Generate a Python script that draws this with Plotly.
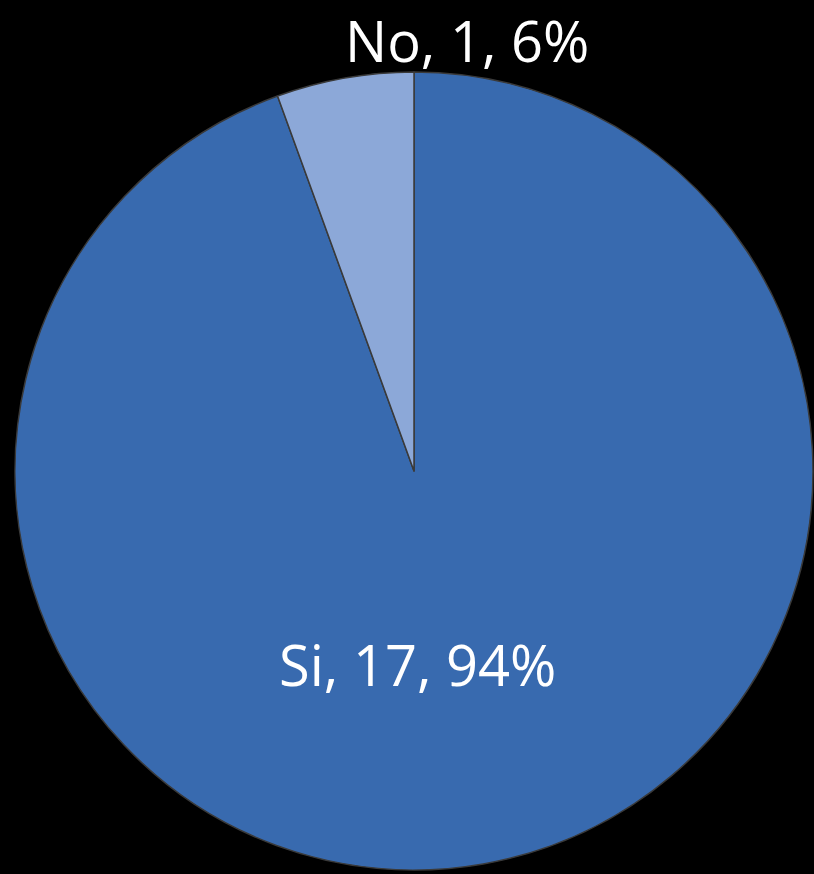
import plotly.graph_objects as go

labels = ["Si", "No"]
values = [17, 1]
colors = ["#386aaf", "#8ca8d8"]

total = sum(values)
label_text = [f"{l}, {v}, {round(100 * v / total)}%" for l, v in zip(labels, values)]

fig = go.Figure(go.Pie(
    labels=labels,
    values=values,
    sort=False,
    direction="clockwise",
    rotation=0,
    marker=dict(colors=colors, line=dict(color="#3a3a3a", width=1.5)),
    textinfo="none",
    showlegend=False,
    hoverinfo="skip",
    domain=dict(x=[0.0184, 0.9988], y=[0.0046, 0.9176]),
))

# etichette posizionate come nell'originale
fig.add_annotation(x=0.5135, y=0.2405, xref="paper", yref="paper",
                   text=label_text[0], showarrow=False,
                   xanchor="center", yanchor="middle",
                   font=dict(family="Open Sans", size=56, color="white"))
fig.add_annotation(x=0.5737, y=1.0, xref="paper", yref="paper",
                   text=label_text[1], showarrow=False,
                   xanchor="center", yanchor="top",
                   font=dict(family="Open Sans", size=56, color="white"))

fig.update_layout(
    width=814,
    height=874,
    margin=dict(l=0, r=0, t=0, b=0),
    paper_bgcolor="black",
    plot_bgcolor="black",
)

fig.write_html(
    "out.html",
    config={"displayModeBar": False},
    post_script="document.body.style.margin='0';document.body.style.background='black';",
)
